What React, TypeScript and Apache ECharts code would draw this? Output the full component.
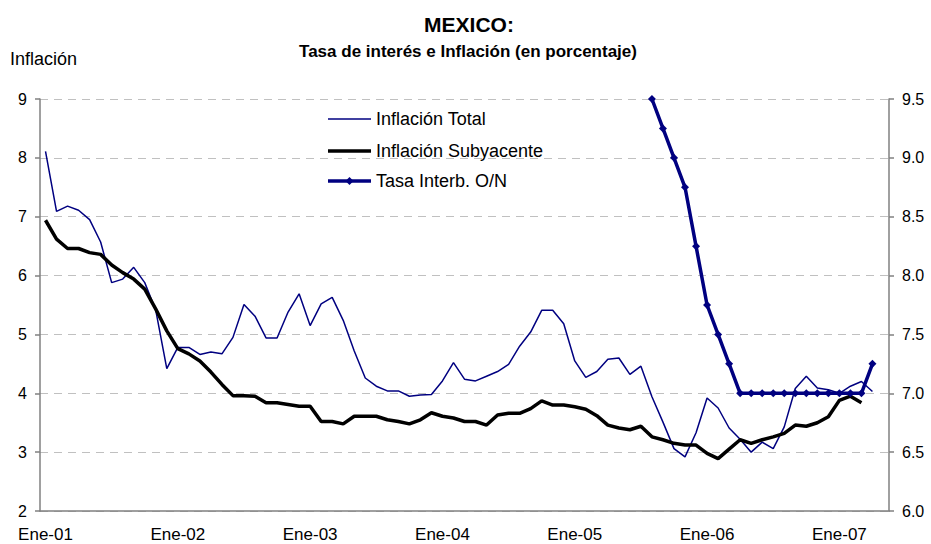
import React, { useEffect, useRef } from "react";
import * as echarts from "echarts";

const years = ["01", "02", "03", "04", "05", "06", "07"];
const months = ["Ene", "Feb", "Mar", "Abr", "May", "Jun", "Jul", "Ago", "Sep", "Oct", "Nov", "Dic"];
const categoryCount = 77; // Ene-01 .. May-07

const inflacionTotal = [
  8.11, 7.09, 7.18, 7.11, 6.95, 6.57, 5.88, 5.94, 6.14, 5.88, 5.41, 4.42,
  4.78, 4.78, 4.66, 4.70, 4.67, 4.95, 5.51, 5.31, 4.94, 4.94, 5.38, 5.69,
  5.15, 5.52, 5.63, 5.24, 4.72, 4.26, 4.12, 4.04, 4.04, 3.95, 3.97, 3.98,
  4.21, 4.52, 4.24, 4.21, 4.29, 4.37, 4.49, 4.80, 5.04, 5.41, 5.41, 5.18,
  4.55, 4.27, 4.37, 4.58, 4.60, 4.32, 4.46, 3.94, 3.51, 3.06, 2.92, 3.33,
  3.92, 3.75, 3.41, 3.22, 3.00, 3.17, 3.06, 3.43, 4.08, 4.29, 4.09, 4.06,
  4.00, 4.12, 4.20, 4.03,
];

const inflacionSubyacente = [
  6.94, 6.62, 6.46, 6.46, 6.39, 6.36, 6.18, 6.05, 5.94, 5.77, 5.43, 5.06,
  4.76, 4.67, 4.55, 4.36, 4.15, 3.96, 3.96, 3.95, 3.84, 3.84, 3.81, 3.78,
  3.78, 3.52, 3.52, 3.48, 3.61, 3.61, 3.61, 3.55, 3.52, 3.48, 3.55, 3.67,
  3.61, 3.58, 3.52, 3.52, 3.46, 3.63, 3.66, 3.66, 3.74, 3.87, 3.80, 3.80,
  3.77, 3.73, 3.62, 3.46, 3.41, 3.38, 3.44, 3.26, 3.21, 3.15, 3.12, 3.12,
  2.98, 2.89, 3.05, 3.21, 3.15, 3.21, 3.26, 3.32, 3.46, 3.44, 3.50, 3.60,
  3.88, 3.95, 3.84,
];

const tasaStartIndex = 55; // Ago-05
const tasaInterb = [
  9.5, 9.25, 9.0, 8.75, 8.25, 7.75, 7.5, 7.25,
  7.0, 7.0, 7.0, 7.0, 7.0, 7.0, 7.0, 7.0, 7.0, 7.0, 7.0, 7.0,
  7.25,
];

const seriesNames = ["Inflación Total", "Inflación Subyacente", "Tasa Interb. O/N"];

const leftTicks = { min: 2, max: 9, interval: 1 };
const rightTicks = { min: 6, max: 9.5, interval: 0.5 };

const FONT = '"Liberation Sans", Arial, sans-serif';
const NAVY = "#000080";

export default function App() {
  const ref = useRef<HTMLDivElement>(null);

  useEffect(() => {
    document.body.style.margin = "0";
    if (!ref.current) return;
    const chart = echarts.init(ref.current, undefined, { renderer: "svg" });

    const categories: string[] = [];
    years.forEach((y) => months.forEach((m) => categories.push(m + "-" + y)));
    const cats = categories.slice(0, categoryCount);

    const tasaData: (number | null)[] = cats.map(() => null);
    tasaInterb.forEach((v, k) => {
      tasaData[tasaStartIndex + k] = v;
    });

    // manual legend
    const legX0 = 328;
    const legX1 = 371;
    const legRows = [119, 151, 181];
    const legStyles = [
      { stroke: NAVY, lineWidth: 1.5 },
      { stroke: "#000", lineWidth: 3.5 },
      { stroke: NAVY, lineWidth: 3.5 },
    ];
    const legendGraphics: any[] = [];
    seriesNames.forEach((name, i) => {
      legendGraphics.push({
        type: "line",
        shape: { x1: legX0, y1: legRows[i], x2: legX1, y2: legRows[i] },
        style: legStyles[i],
      });
      legendGraphics.push({
        type: "text",
        x: 376,
        y: legRows[i],
        style: {
          text: name,
          font: `18px ${FONT}`,
          fill: "#000",
          textAlign: "left",
          textVerticalAlign: "middle",
        },
      });
    });
    const cx = (legX0 + legX1) / 2;
    const cy = legRows[2];
    legendGraphics.push({
      type: "polygon",
      shape: { points: [[cx, cy - 4], [cx + 4, cy], [cx, cy + 4], [cx - 4, cy]] },
      style: { fill: NAVY },
    });

    chart.setOption({
      animation: false,
      backgroundColor: "#ffffff",
      textStyle: { fontFamily: FONT },
      grid: { left: 40, right: 42, top: 99, bottom: 33, containLabel: false },
      graphic: [
        {
          type: "text",
          x: 469,
          y: 24,
          style: {
            text: "MEXICO:",
            font: `bold 21px ${FONT}`,
            fill: "#000",
            textAlign: "center",
            textVerticalAlign: "middle",
          },
        },
        {
          type: "text",
          x: 468,
          y: 51,
          style: {
            text: "Tasa de interés e Inflación (en porcentaje)",
            font: `bold 17px ${FONT}`,
            fill: "#000",
            textAlign: "center",
            textVerticalAlign: "middle",
          },
        },
        {
          type: "text",
          x: 10,
          y: 59,
          style: {
            text: "Inflación",
            font: `18px ${FONT}`,
            fill: "#000",
            textAlign: "left",
            textVerticalAlign: "middle",
          },
        },
        ...legendGraphics,
      ],
      xAxis: {
        type: "category",
        data: cats,
        boundaryGap: true,
        axisLine: { lineStyle: { color: "#808080", width: 1.5 } },
        axisTick: { interval: 11, length: 5, lineStyle: { color: "#808080", width: 1.5 } },
        axisLabel: { interval: 11, color: "#000", fontSize: 17, margin: 15, fontFamily: FONT },
        splitLine: { show: false },
      },
      yAxis: [
        {
          type: "value",
          min: leftTicks.min,
          max: leftTicks.max,
          interval: leftTicks.interval,
          axisLine: { show: true, lineStyle: { color: "#808080", width: 1.5 } },
          axisTick: { show: true, length: 5, lineStyle: { color: "#808080", width: 1.5 } },
          axisLabel: { color: "#000", fontSize: 16, margin: 13, fontFamily: FONT },
          splitLine: { show: true, lineStyle: { color: "#c0c0c0", type: [8, 6], width: 1 } },
        },
        {
          type: "value",
          position: "right",
          min: rightTicks.min,
          max: rightTicks.max,
          interval: rightTicks.interval,
          axisLine: { show: true, lineStyle: { color: "#808080", width: 1.5 } },
          axisTick: { show: true, length: 5, lineStyle: { color: "#808080", width: 1.5 } },
          axisLabel: {
            color: "#000",
            fontSize: 16,
            margin: 13,
            fontFamily: FONT,
            formatter: (v: number) => v.toFixed(1),
          },
          splitLine: { show: false },
        },
      ],
      series: [
        {
          name: seriesNames[0],
          type: "line",
          data: inflacionTotal,
          symbol: "none",
          lineStyle: { color: NAVY, width: 1.5 },
          itemStyle: { color: NAVY },
          z: 2,
        },
        {
          name: seriesNames[1],
          type: "line",
          data: inflacionSubyacente,
          symbol: "none",
          lineStyle: { color: "#000000", width: 3.5 },
          itemStyle: { color: "#000000" },
          z: 3,
        },
        {
          name: seriesNames[2],
          type: "line",
          yAxisIndex: 1,
          data: tasaData,
          symbol: "diamond",
          symbolSize: 8,
          showAllSymbol: true,
          connectNulls: false,
          lineStyle: { color: NAVY, width: 3.5 },
          itemStyle: { color: NAVY },
          z: 4,
        },
      ],
    });

    return () => chart.dispose();
  }, []);

  return (
    <div
      ref={ref}
      style={{ position: "fixed", left: 0, top: 0, width: 931, height: 544, background: "#fff" }}
    />
  );
}
